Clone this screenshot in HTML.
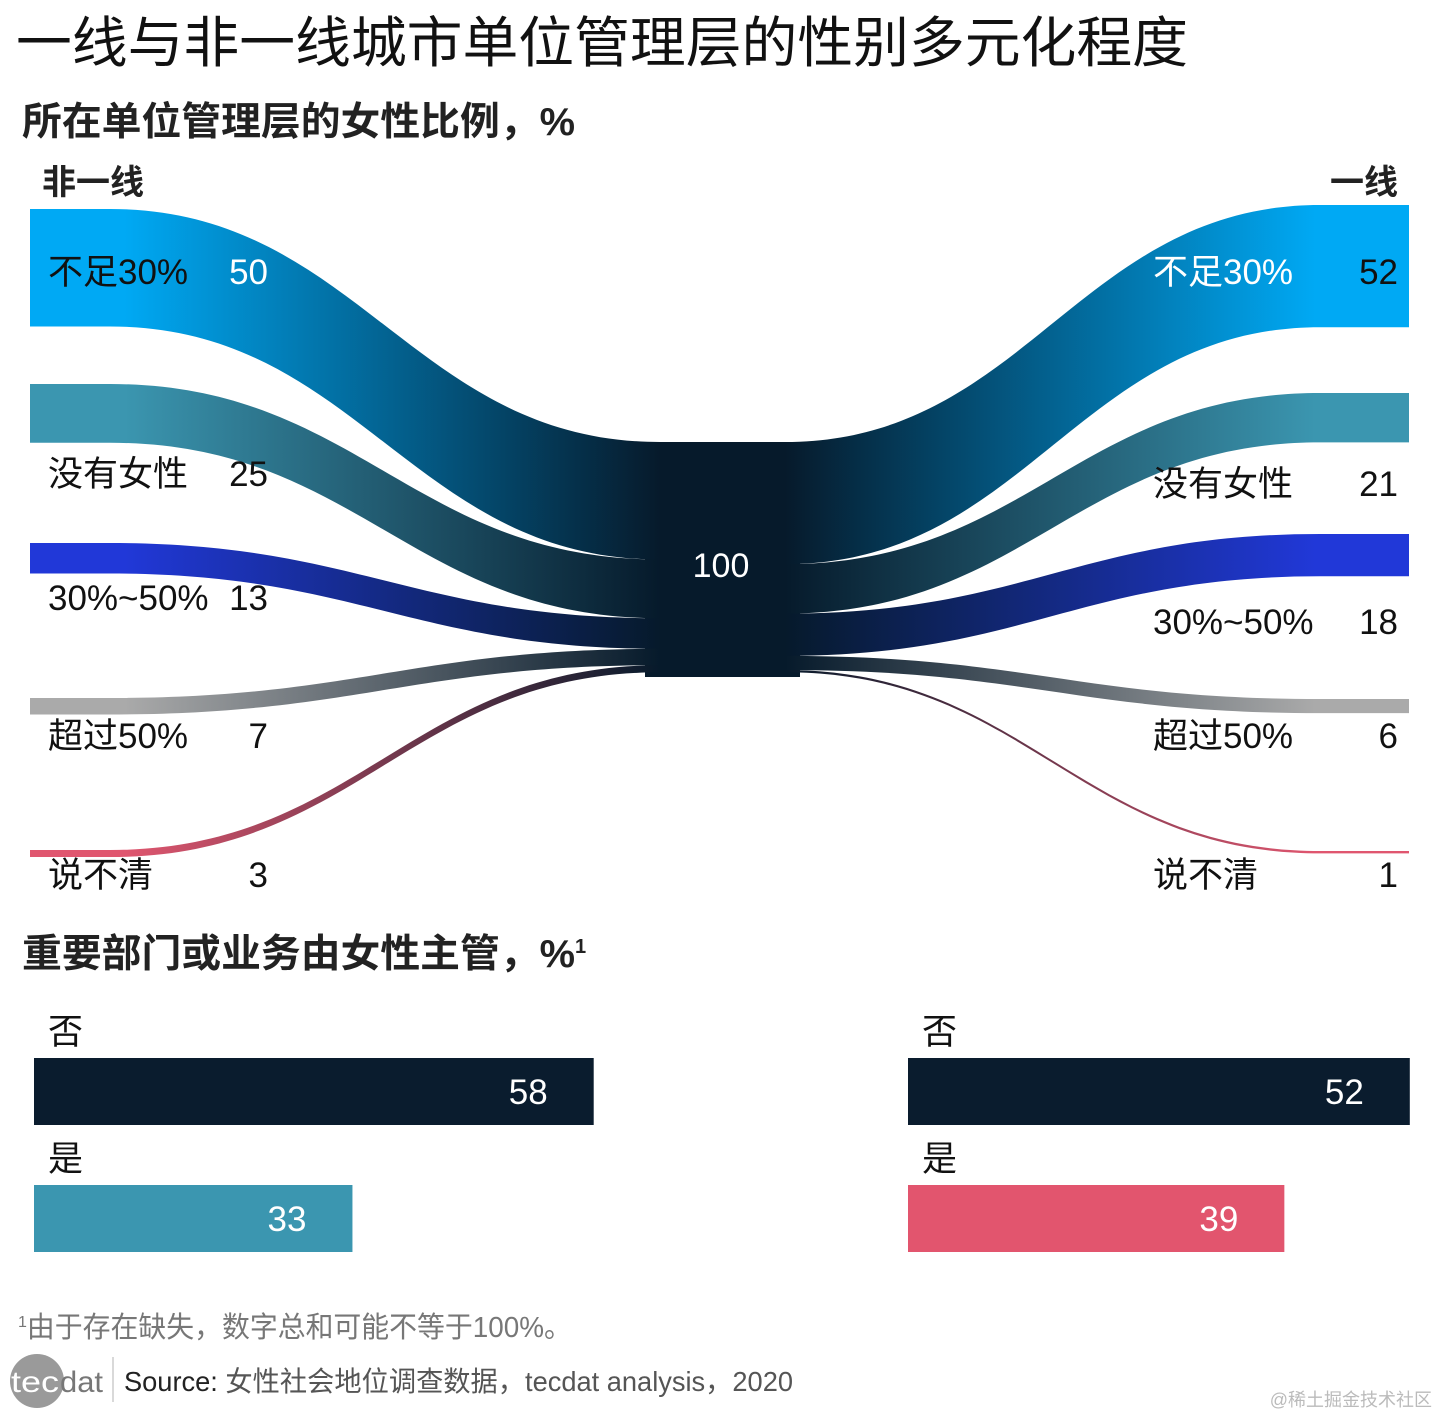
<!DOCTYPE html>
<html><head><meta charset="utf-8">
<style>
html,body{margin:0;padding:0;background:#fff;}
body{width:1440px;height:1417px;overflow:hidden;font-family:"Liberation Sans","Noto Sans CJK SC",sans-serif;}
svg text{font-family:"Liberation Sans","Noto Sans CJK SC",sans-serif;}
</style></head><body>
<svg id="chart" width="1440" height="1417" viewBox="0 0 1440 1417" xmlns="http://www.w3.org/2000/svg">
<defs id="defs"></defs>
<text x="16" y="62" font-size="55" fill="#111" textLength="1172" lengthAdjust="spacingAndGlyphs">一线与非一线城市单位管理层的性别多元化程度</text>
<text x="22" y="135" font-size="39" fill="#222" font-weight="bold" textLength="553" lengthAdjust="spacingAndGlyphs">所在单位管理层的女性比例，%</text>
<text x="42" y="194" font-size="34" fill="#222" font-weight="bold">非一线</text>
<text x="1398" y="194" font-size="34" fill="#222" font-weight="bold" text-anchor="end">一线</text>
<g id="flows"></g>
<g id="labels"></g>
<text x="22" y="967" font-size="39" fill="#222" font-weight="bold"><tspan textLength="553" lengthAdjust="spacingAndGlyphs">重要部门或业务由女性主管，%</tspan><tspan font-size="20" dy="-14">1</tspan></text>
<g id="bars"></g>
<text x="18" y="1337" font-size="29" fill="#777"><tspan font-size="16" dy="-10">1</tspan><tspan dy="10" textLength="545" lengthAdjust="spacingAndGlyphs">由于存在缺失，数字总和可能不等于100%。</tspan></text>
<g>
<circle cx="37" cy="1381" r="27" fill="#9a9a9a"/>
<text x="11" y="1392" font-size="30" fill="#fff" textLength="48" lengthAdjust="spacingAndGlyphs">tec</text>
<text x="60" y="1392" font-size="30" fill="#777" textLength="43" lengthAdjust="spacingAndGlyphs">dat</text>
<line x1="113" y1="1357" x2="113" y2="1402" stroke="#ccc" stroke-width="1.5"/>
</g>
<text x="124" y="1391" font-size="28" fill="#555" textLength="669" lengthAdjust="spacingAndGlyphs"><tspan fill="#222">Source:</tspan> 女性社会地位调查数据，tecdat analysis，2020</text>
<text x="1432" y="1406" font-size="18" fill="#bbb" text-anchor="end">@稀土掘金技术社区</text>
</svg>
<script>
const categories = ["不足30%", "没有女性", "30%~50%", "超过50%", "说不清"];
const leftValues = [50, 25, 13, 7, 3];
const rightValues = [52, 21, 18, 6, 1];
const totalValue = 100;
const colors = ["#00a9f4", "#3b96b0", "#2138d8", "#aaaaaa", "#e0566f"];
const barCats = ["否", "是"];
const barLeftValues = [58, 33];
const barRightValues = [52, 39];

const NS = "http://www.w3.org/2000/svg";
const K = 2.35;
const leftTops = [209, 384, 543, 698, 850];
const rightTops = [205, 393, 534, 699, 851];
const nodeTop = 442;
const nodeL = 645, nodeR = 800;
const defs = document.getElementById('defs');
const flows = document.getElementById('flows');
const labels = document.getElementById('labels');
function h(v){return v*K;}
function mk(tag, attrs, parent){const e=document.createElementNS(NS,tag);for(const k in attrs)e.setAttribute(k,attrs[k]);parent.appendChild(e);return e;}

const node = mk('rect',{x:nodeL,y:nodeTop,width:nodeR-nodeL,height:h(totalValue),fill:'#061a2b'},flows);



function flow(side, i, y0, v, y1){
  const id='g'+side+i;
  const g=mk('linearGradient',{id:id,x1:'0',x2:'1',y1:'0',y2:'0'},defs);
  const outer = side==='L'?colors[i]:'#061a2b';
  const inner = side==='L'?'#061a2b':colors[i];
  mk('stop',{offset:side==='L'?'0.15':'0','stop-color':outer},g);
  mk('stop',{offset:side==='L'?'1':'0.85','stop-color':inner},g);
  const t=h(v);
  let d;
  if(side==='L'){
    const a=30,b=110,c=nodeL+15,m1=b+(c-b)*0.45,m2=b+(c-b)*0.55;
    d=`M${a},${y0} L${b},${y0} C${m1},${y0} ${m2},${y1} ${c},${y1} L${c},${y1+t} C${m2},${y1+t} ${m1},${y0+t} ${b},${y0+t} L${a},${y0+t} Z`;
  } else {
    const a=1409,b=1320,c=nodeR-15,m1=c+(b-c)*0.45,m2=c+(b-c)*0.55;
    d=`M${c},${y1} C${m1},${y1} ${m2},${y0} ${b},${y0} L${a},${y0} L${a},${y0+t} L${b},${y0+t} C${m2},${y0+t} ${m1},${y1+t} ${c},${y1+t} Z`;
  }
  const p=mk('path',{d:d,fill:`url(#${id})`},flows);
  
  
}
let acc=nodeTop;
leftValues.forEach((v,i)=>{flow('L',i,leftTops[i],v,acc);acc+=h(v);});
acc=nodeTop;
rightValues.forEach((v,i)=>{flow('R',i,rightTops[i],v,acc);acc+=h(v);});

const c100=mk('text',{x:721,y:577,'font-size':34,fill:'#fff','text-anchor':'middle'},labels);
c100.textContent=totalValue;



const leftLabelY=[284,486,610,748,887];
const rightLabelY=[284,496,634,748,887];
categories.forEach((c,i)=>{
  const a=mk('text',{x:48,y:leftLabelY[i],'font-size':35,fill:'#111'},labels);a.textContent=c;
  
  
  const b=mk('text',{x:268,y:leftLabelY[i],'font-size':35,fill:i===0?'#fff':'#111','text-anchor':'end'},labels);b.textContent=leftValues[i];
  
  
  const e=mk('text',{x:1153,y:rightLabelY[i],'font-size':35,fill:i===0?'#fff':'#111'},labels);e.textContent=c;
  
  
  const f=mk('text',{x:1398,y:rightLabelY[i],'font-size':35,fill:'#111','text-anchor':'end'},labels);f.textContent=rightValues[i];
  
  
});

const bars=document.getElementById('bars');
const BK=9.65;
const barY=[1058,1185], barH=67;
const barColorsL=['#0a1c2e','#3b96b0'], barColorsR=['#0a1c2e','#e2556e'];
function barSet(x0, vals, cols, side){
  vals.forEach((v,i)=>{
    const lbl=mk('text',{x:x0+14,y:barY[i]-14,'font-size':35,fill:'#111'},bars);lbl.textContent=barCats[i];
    
    
    const r=mk('rect',{x:x0,y:barY[i],width:v*BK,height:barH,fill:cols[i]},bars);
    
    
    const t=mk('text',{x:x0+v*BK-46,y:barY[i]+46,'font-size':35,fill:'#fff','text-anchor':'end'},bars);t.textContent=v;
    
    
  });
}
barSet(34,barLeftValues,barColorsL,'left');
barSet(908,barRightValues,barColorsR,'right');
</script>
</body></html>
